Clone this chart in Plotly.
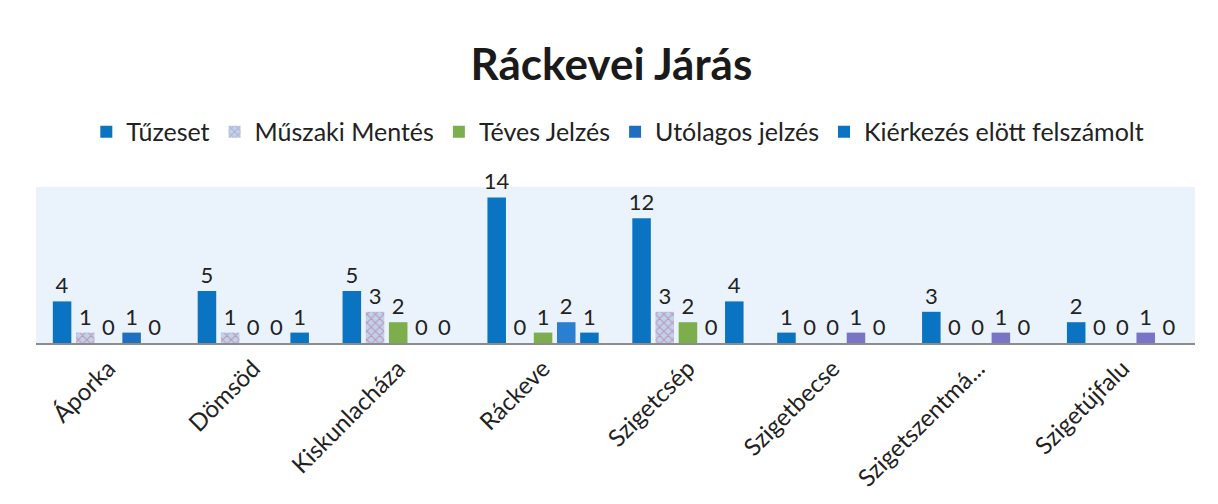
import plotly.graph_objects as go

categories = ["Áporka", "Dömsöd", "Kiskunlacháza", "Ráckeve", "Szigetcsép",
              "Szigetbecse", "Szigetszentmá...", "Szigetújfalu"]
tuzeset = [4, 5, 5, 14, 12, 1, 3, 2]
muszaki = [1, 1, 3, 0, 3, 0, 0, 0]
teves = [0, 0, 2, 1, 2, 0, 0, 0]
utolagos = [1, 0, 0, 2, 0, 1, 1, 1]
kierkezes = [0, 1, 0, 1, 4, 0, 0, 0]

series = [
    ("Tűzeset", tuzeset, "#0a74c2", None),
    ("Műszaki Mentés", muszaki, "#b9d3f0", dict(shape="x", fgcolor="#d9505c", size=6, solidity=0.3)),
    ("Téves Jelzés", teves, "#7dae4c", None),
    ("Utólagos jelzés", utolagos, ["#1f6fc0", "#7b74c6", "#7b74c6", "#2a7fd0",
                                   "#7b74c6", "#7b74c6", "#7b74c6", "#7b74c6"], None),
    ("Kiérkezés elött felszámolt", kierkezes, "#0a74c2", None),
]

fig = go.Figure()
for name, vals, color, pattern in series:
    marker = dict(color=color, line=dict(width=0))
    if pattern:
        marker["pattern"] = pattern
    fig.add_trace(go.Bar(
        name=name, x=categories, y=vals, marker=marker,
        text=[str(v) for v in vals], textposition="outside", constraintext="none",
        textfont=dict(size=22, color="#222222", family="Lato, sans-serif"),
        cliponaxis=False,
    ))

fig.update_layout(
    width=1218, height=504,
    barmode="group", bargap=0.2, bargroupgap=0.2,
    paper_bgcolor="white", plot_bgcolor="#eaf3fb",
    margin=dict(l=36, r=23, t=187, b=161, autoexpand=False),
    font=dict(family="Lato, sans-serif", color="#222222"),
    title=dict(text="<b>Ráckevei Járás</b>", x=0.502, xanchor="center",
               y=0.871, yanchor="middle", font=dict(size=44, color="#1a1a1a")),
    legend=dict(orientation="h", x=0.502, xanchor="center", y=1.353, yanchor="middle",
                font=dict(size=25, color="#222222"), itemwidth=30,
                bgcolor="rgba(0,0,0,0)"),
    showlegend=True,
)
fig.update_xaxes(showline=True, linecolor="#8c8c8c", linewidth=2, tickangle=-45,
                 tickfont=dict(size=24, color="#222222"), showgrid=False, ticks="",
                 automargin=False)
fig.update_yaxes(visible=False, range=[0, 15], showgrid=False, automargin=False)

fig.write_html("out.html", config={"displayModeBar": False},
               post_script="document.body.style.margin='0';document.body.style.overflow='hidden';")
